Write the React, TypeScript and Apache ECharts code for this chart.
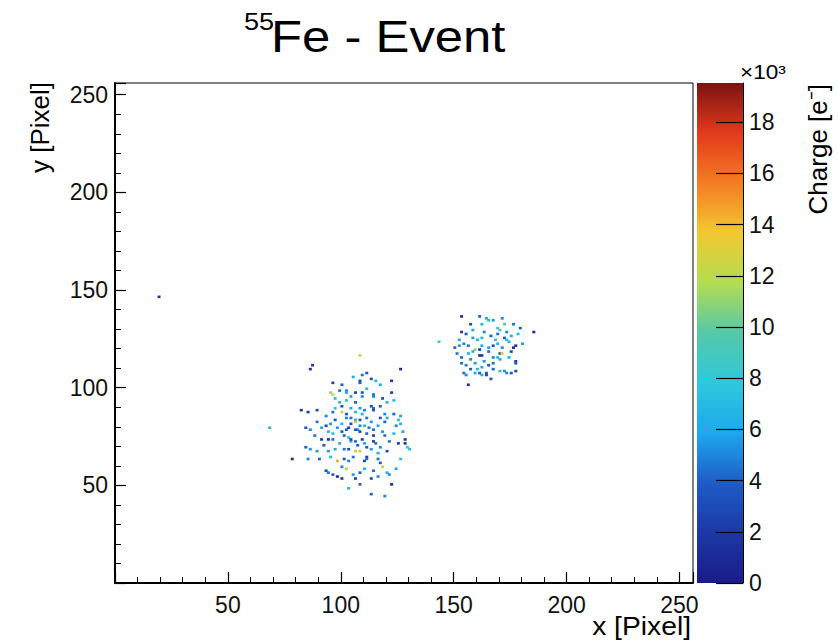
import React, { useEffect, useRef } from "react";
import * as echarts from "echarts";

// [x pixel, y pixel, charge (e-)]
const clusterA: number[][] = [
  [87, 111, 2000], [86, 109, 1500], [108, 116, 12000], [126, 109, 1200],
  [111, 107, 3500], [109, 106, 4500], [96, 102, 2500], [108, 103, 3000], [108, 102, 4000],
  [115, 103, 6500], [117, 101, 6000], [122, 103, 2000], [95, 97, 11000], [96, 96, 12500],
  [99, 98, 4500], [102, 98, 5000], [102, 97, 6000], [106, 97, 2500], [109, 97, 3500],
  [109, 95, 5000], [114, 96, 4500], [114, 95, 5000], [122, 97, 2500], [123, 93, 7000],
  [97, 94, 7000], [99, 92, 6500], [102, 93, 8000], [113, 90, 3000], [114, 89, 4500],
  [114, 88, 3500], [106, 92, 4000], [108, 89, 5500], [106, 87, 7000], [109, 86, 6500],
  [119, 86, 5000], [123, 86, 4000], [126, 85, 6000], [82, 88, 2000], [85, 87, 1800],
  [89, 88, 3000], [96, 87, 4500], [100, 87, 12000], [102, 86, 3500], [125, 83, 7000],
  [126, 81, 6500], [89, 82, 4500], [93, 80, 2500], [95, 81, 5500], [97, 83, 3500],
  [102, 84, 5000], [104, 84, 4500], [106, 83, 6000], [106, 82, 12000], [108, 83, 3500],
  [111, 84, 4500], [113, 82, 5500], [119, 82, 4000], [120, 84, 6000], [94, 77, 6500],
  [96, 76, 7000], [100, 77, 3500], [102, 78, 4000], [103, 79, 2500], [107, 78, 5000],
  [108, 80, 5000], [106, 78, 3500], [108, 77, 2500], [111, 76, 4000], [114, 78, 4500],
  [114, 75, 2500], [118, 77, 5500], [119, 75, 4500], [84, 79, 3500], [86, 78, 5000],
  [91, 73, 2000], [94, 73, 1500], [96, 73, 4500], [101, 75, 4000], [103, 74, 7000],
  [104, 72, 6500], [104, 73, 2500], [106, 72, 4500], [109, 73, 2000], [114, 72, 2500],
  [115, 71, 4500], [121, 72, 4500], [125, 71, 2000], [128, 73, 1500], [128, 71, 1800],
  [130, 68, 7500], [84, 69, 4000], [86, 68, 5500], [94, 67, 5500], [97, 68, 6000],
  [101, 68, 4500], [103, 68, 3000], [106, 67, 13000], [108, 67, 12500], [111, 69, 3500],
  [113, 68, 5500], [111, 64, 2500], [110, 62, 3000], [111, 63, 4500], [126, 63, 7500],
  [78, 63, 1500], [85, 63, 5000], [90, 63, 4000], [98, 62, 14500], [101, 63, 3500],
  [103, 62, 5000], [116, 63, 4500], [93, 57, 3000], [94, 56, 4500], [96, 55, 4000],
  [98, 54, 1500], [100, 53, 2000], [105, 55, 5500], [106, 53, 2500], [108, 56, 4000],
  [113, 53, 3000], [114, 57, 4500], [116, 54, 5000], [120, 56, 6000], [121, 55, 5500],
  [122, 50, 1500], [113, 45, 4000], [119, 44, 5000], [118, 59, 12500], [102, 58, 12000],
  [98, 79, 5500], [100, 81, 6500], [104, 81, 3000], [110, 80, 7000], [112, 79, 4500],
  [116, 80, 6000], [117, 84, 3500], [110, 88, 5000], [104, 89, 6000], [100, 90, 3500],
  [97, 89, 7500], [117, 90, 4000], [120, 92, 6500], [118, 94, 3000], [104, 95, 5500],
  [111, 99, 7000], [100, 101, 4000], [113, 104, 3000], [105, 105, 6000], [93, 85, 5000],
  [91, 79, 6000], [88, 75, 4500], [92, 70, 3500], [99, 71, 6000], [107, 70, 4000],
  [110, 71, 6500], [117, 69, 5000], [120, 67, 3000], [123, 76, 6500], [124, 80, 5000],
  [116, 66, 6000], [105, 64, 4500], [95, 64, 7000], [89, 67, 5500], [100, 59, 5000],
  [110, 58, 6500], [117, 61, 3500], [124, 58, 6000], [108, 50, 4000], [103, 48, 6500],
  [127, 77, 6000], [129, 69, 8000],
];

const clusterB: number[][] = [
  [153, 136, 1500], [161, 136, 4000], [164, 135, 6000], [165, 134, 7000], [167, 134, 5500],
  [171, 135, 5000], [176, 132, 4500], [157, 132, 3000], [162, 132, 6500], [169, 130, 9000],
  [172, 132, 10000], [179, 130, 4000], [185, 128, 1500], [153, 128, 2000], [155, 127, 3500],
  [158, 125, 5500], [160, 124, 6500], [162, 125, 7000], [166, 126, 4000], [169, 127, 4500],
  [173, 128, 5000], [175, 126, 6000], [178, 127, 7000], [143, 123, 8500], [150, 120, 4000],
  [152, 121, 5500], [154, 122, 5000], [156, 121, 4500], [159, 119, 11000], [161, 119, 2000],
  [162, 121, 6000], [165, 120, 5500], [167, 121, 3500], [169, 122, 6500], [173, 124, 7000],
  [174, 123, 6500], [177, 121, 1500], [151, 117, 4500], [153, 115, 4000], [156, 117, 6000],
  [157, 114, 5000], [161, 116, 1500], [162, 116, 2000], [165, 118, 4500], [167, 115, 5000],
  [170, 117, 3500], [170, 114, 6000], [177, 113, 2500], [153, 112, 4500], [155, 111, 5000],
  [159, 112, 5500], [162, 110, 6000], [165, 111, 3500], [167, 109, 4000], [170, 108, 7000],
  [173, 107, 5000], [177, 108, 3000], [154, 107, 4500], [159, 107, 6000], [162, 106, 6500],
  [164, 107, 4000], [156, 101, 1500], [170, 129, 9500], [172, 125, 4000], [176, 120, 1800],
  [171, 117, 13500], [169, 115, 6500], [177, 112, 4000], [172, 108, 5500], [175, 107, 3500],
  [155, 106, 5000], [161, 107, 4000], [164, 106, 3000],
  [158, 129, 6000], [163, 128, 5000], [168, 124, 7500], [171, 120, 5000], [158, 118, 6500],
  [163, 113, 5500], [174, 115, 6000], [160, 109, 7000], [167, 112, 4500], [175, 118, 3000],
  [152, 124, 6000], [180, 122, 5500], [157, 109, 4000], [166, 104, 3500],
];

const strays: number[][] = [
  [19, 146, 2000], [68, 79, 7000],
];

const chargeMax = 19530;
const paletteColors = [
  "#1b1b8a", "#1c38a4", "#1e5cc6", "#1ea8ec", "#2ec8dc", "#56c8a8",
  "#b2dc52", "#f2c832", "#f57c22", "#e23a1c", "#7c1212",
];

const FONT = "Liberation Sans, Arial, Helvetica, sans-serif";
const STRETCH = 1.13;

export default function App() {
  const ref = useRef<HTMLDivElement>(null);
  useEffect(() => {
    const chart = echarts.init(ref.current!, null, { renderer: "svg" });
    const bins = [...clusterA, ...clusterB, ...strays].map(([x, y, v]) => [x + 0.5, y + 0.5, v]);
    const commonAxis = {
      type: "value",
      min: 0,
      max: 256,
      interval: 50,
      axisLine: { show: true, onZero: false, lineStyle: { color: "#000", width: 2 } },
      axisTick: { show: true, inside: true, length: 11, lineStyle: { color: "#000", width: 1.2 } },
      minorTick: { show: true, splitNumber: 5, length: 6, lineStyle: { color: "#000", width: 1 } },
      splitLine: { show: false },
    };
    chart.setOption({
      animation: false,
      backgroundColor: "#fff",
      textStyle: { fontFamily: FONT },
      grid: [
        { left: 115, top: 83, width: 578, height: 500, show: true, borderColor: "#000", borderWidth: 1, backgroundColor: "transparent" },
        { left: 743, top: 83, width: 1, height: 500, show: false },
      ],
      xAxis: [
        {
          ...commonAxis,
          gridIndex: 0,
          axisLabel: { fontSize: 23, color: "#111", margin: 10, fontFamily: FONT, showMinLabel: false, showMaxLabel: false },
        },
        { gridIndex: 1, type: "value", min: 0, max: 1, show: false },
      ],
      yAxis: [
        {
          ...commonAxis,
          gridIndex: 0,
          axisLabel: { fontSize: 23, color: "#111", margin: 7, fontFamily: FONT, showMinLabel: false, showMaxLabel: false },
        },
        {
          gridIndex: 1,
          type: "value",
          position: "left",
          min: 0,
          max: chargeMax,
          interval: 2000,
          z: 10,
          axisLine: { show: true, lineStyle: { color: "#000", width: 1 } },
          axisTick: { show: true, inside: false, length: 27, lineStyle: { color: "#000", width: 1.2 } },
          splitLine: { show: false },
          axisLabel: {
            inside: true,
            fontSize: 23,
            color: "#111",
            margin: 6,
            fontFamily: FONT,
            showMaxLabel: false,
            formatter: (v: number) => String(v / 1000),
          },
        },
      ],
      visualMap: {
        type: "continuous",
        show: false,
        min: 0,
        max: chargeMax,
        dimension: 2,
        seriesIndex: 0,
        inRange: { color: paletteColors },
      },
      graphic: [
        {
          type: "rect",
          z: 0,
          shape: { x: 697, y: 83, width: 46, height: 500 },
          style: {
            fill: {
              type: "linear", x: 0, y: 1, x2: 0, y2: 0,
              colorStops: paletteColors.map((c, i) => ({ offset: i / (paletteColors.length - 1), color: c })),
            },
          },
        },
        { type: "text", x: 244, y: 22, scaleX: STRETCH, style: { text: "55", fontSize: 24, fill: "#000", fontFamily: FONT, align: "left", verticalAlign: "middle" } },
        { type: "text", x: 271, y: 37, scaleX: STRETCH, style: { text: "Fe - Event", fontSize: 45, fill: "#000", fontFamily: FONT, align: "left", verticalAlign: "middle" } },
        { type: "text", x: 40, y: 82, rotation: Math.PI / 2, style: { text: "y [Pixel]", fontSize: 26, fill: "#000", fontFamily: FONT, align: "right", verticalAlign: "middle" } },
        { type: "text", x: 691, y: 627, scaleX: STRETCH, style: { text: "x [Pixel]", fontSize: 25, fill: "#000", fontFamily: FONT, align: "right", verticalAlign: "middle" } },
        { type: "text", x: 818, y: 84, rotation: Math.PI / 2, style: { text: "Charge [e⁻]", fontSize: 26, fill: "#000", fontFamily: FONT, align: "right", verticalAlign: "middle" } },
        { type: "text", x: 740, y: 72, scaleX: STRETCH, style: { text: "×10³", fontSize: 20, fill: "#000", fontFamily: FONT, align: "left", verticalAlign: "middle" } },
      ],
      series: [
        {
          type: "scatter",
          xAxisIndex: 0,
          yAxisIndex: 0,
          symbol: "rect",
          symbolSize: [3, 2.6],
          data: bins,
          itemStyle: { opacity: 1 },
        },
      ],
    });
    return () => chart.dispose();
  }, []);
  return <div ref={ref} style={{ position: "fixed", left: 0, top: 0, width: 838, height: 641 }} />;
}
